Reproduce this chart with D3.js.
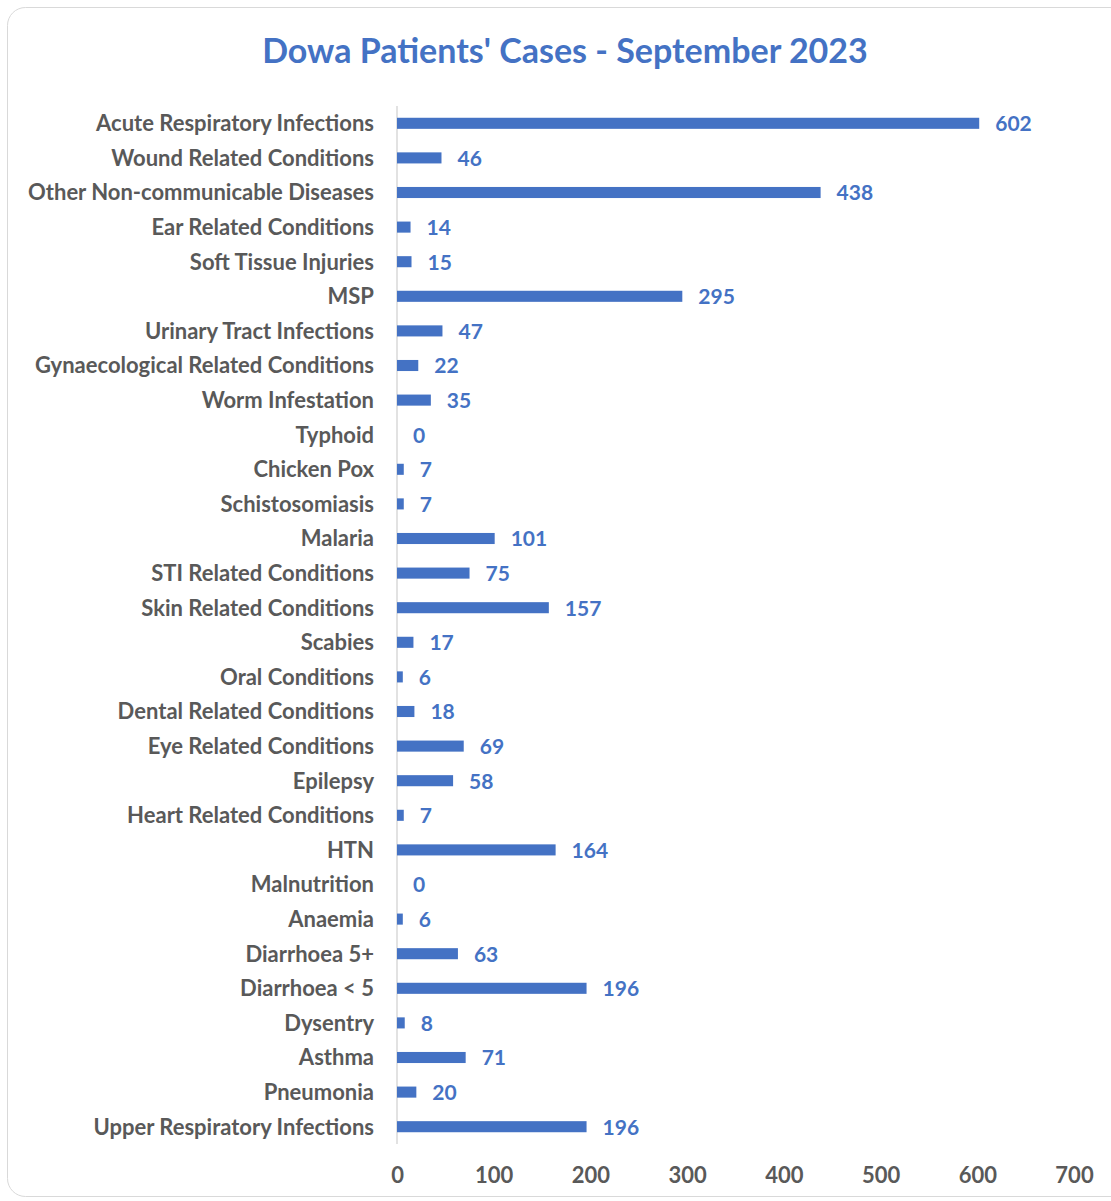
<!DOCTYPE html>
<html>
<head>
<meta charset="utf-8">
<script src="https://cdn.jsdelivr.net/npm/d3@7"></script>
<style>
  body { margin: 0; background: #fff; }
  svg text { font-family: Lato, "Open Sans", sans-serif; }
</style>
</head>
<body>
<div id="chart"></div>
<script>
// categories, top to bottom as shown
var categories = [
  "Acute Respiratory Infections", "Wound Related Conditions", "Other Non-communicable Diseases",
  "Ear Related Conditions", "Soft Tissue Injuries", "MSP", "Urinary Tract Infections",
  "Gynaecological Related Conditions", "Worm Infestation", "Typhoid", "Chicken Pox",
  "Schistosomiasis", "Malaria", "STI Related Conditions", "Skin Related Conditions", "Scabies",
  "Oral Conditions", "Dental Related Conditions", "Eye Related Conditions", "Epilepsy",
  "Heart Related Conditions", "HTN", "Malnutrition", "Anaemia", "Diarrhoea 5+", "Diarrhoea < 5",
  "Dysentry", "Asthma", "Pneumonia", "Upper Respiratory Infections"
];
var cases = [602, 46, 438, 14, 15, 295, 47, 22, 35, 0, 7, 7, 101, 75, 157, 17, 6, 18, 69, 58,
  7, 164, 0, 6, 63, 196, 8, 71, 20, 196];
var ticks = [0, 100, 200, 300, 400, 500, 600, 700];
var title = "Dowa Patients' Cases - September 2023";

var W = 1111, H = 1201;
var blue = "#4472C4", grey = "#595959";

var svg = d3.select("#chart").append("svg")
  .attr("width", W).attr("height", H);

// chart frame
svg.append("rect")
  .attr("x", 7.5).attr("y", 7.5)
  .attr("width", W + 20).attr("height", H - 12)
  .attr("rx", 18).attr("ry", 18)
  .attr("fill", "#fff").attr("stroke", "#d9d9d9").attr("stroke-width", 1);

svg.append("text")
  .attr("x", 565).attr("y", 63)
  .attr("text-anchor", "middle")
  .attr("fill", blue)
  .style("font-size", "34px").style("font-weight", "bold")
  .text(title);

var x = d3.scaleLinear().domain([0, 700]).range([397, 1074]);
var y = d3.scaleBand().domain(categories).range([106, 1144]).paddingInner(0.68).paddingOuter(0.34);

// category axis line
svg.append("line")
  .attr("x1", x(0)).attr("x2", x(0))
  .attr("y1", 106).attr("y2", 1144)
  .attr("stroke", "#d9d9d9").attr("stroke-width", 1.5);

svg.selectAll(".bar")
  .data(categories)
  .enter().append("rect")
  .attr("class", "bar")
  .attr("x", x(0))
  .attr("y", function(d) { return y(d); })
  .attr("width", function(d, i) { return x(cases[i]) - x(0); })
  .attr("height", y.bandwidth())
  .attr("fill", blue);

svg.selectAll(".val")
  .data(categories)
  .enter().append("text")
  .attr("class", "val")
  .attr("x", function(d, i) { return x(cases[i]) + 16; })
  .attr("y", function(d) { return y(d) + y.bandwidth() / 2; })
  .attr("dy", "0.38em")
  .attr("fill", blue)
  .style("font-size", "21px").style("font-weight", "bold")
  .text(function(d, i) { return cases[i]; });

svg.selectAll(".cat")
  .data(categories)
  .enter().append("text")
  .attr("class", "cat")
  .attr("x", 374)
  .attr("y", function(d) { return y(d) + y.bandwidth() / 2; })
  .attr("dy", "0.36em")
  .attr("text-anchor", "end")
  .attr("fill", grey)
  .style("font-size", "22px").style("font-weight", "bold")
  .text(function(d) { return d; });

var xAxis = svg.append("g")
  .attr("transform", "translate(0,1175)")
  .call(d3.axisBottom(x).tickValues(ticks).tickSize(0).tickPadding(0));
xAxis.select(".domain").remove();
xAxis.selectAll("text")
  .attr("dy", "0.36em")
  .attr("fill", grey)
  .style("font-size", "22px").style("font-weight", "bold")
  .style("font-family", "Lato, sans-serif");
</script>
</body>
</html>
